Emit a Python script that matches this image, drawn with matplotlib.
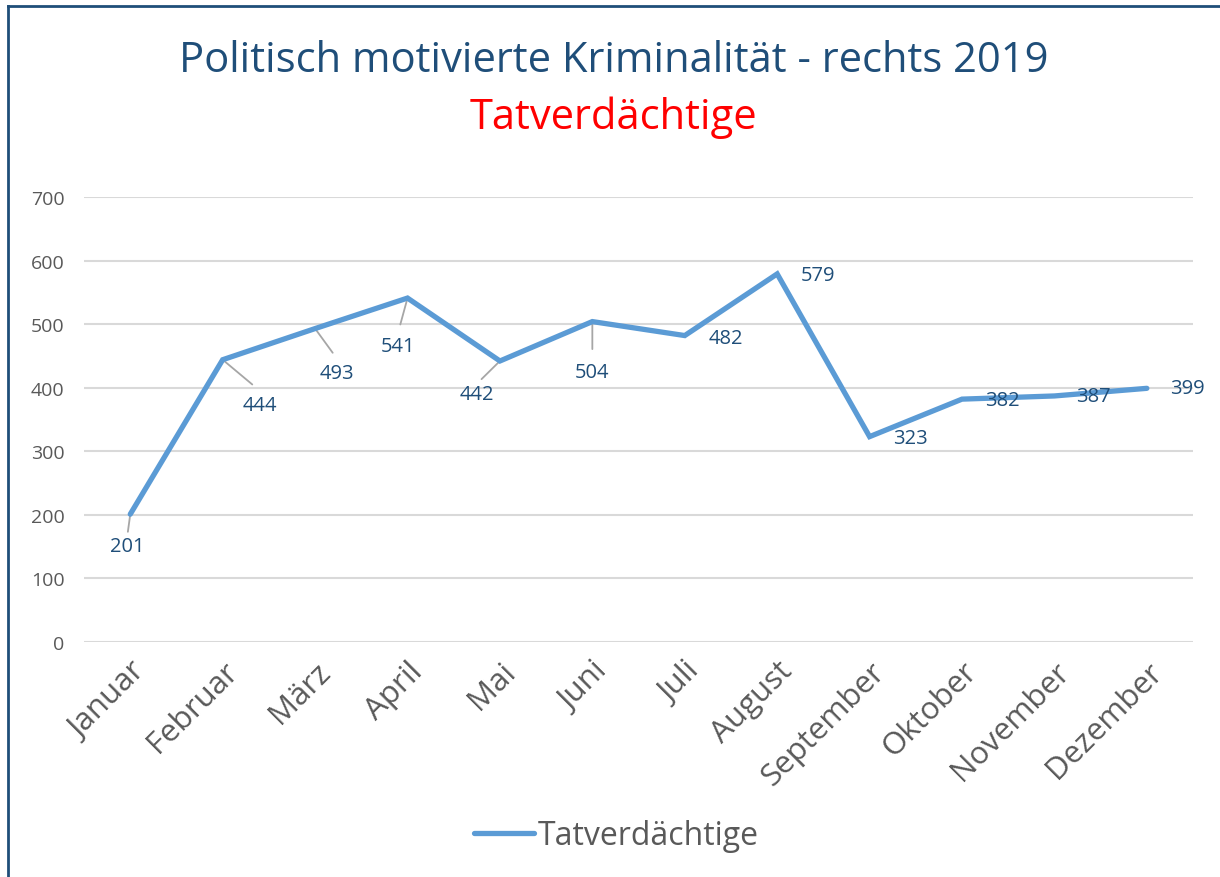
import matplotlib.pyplot as plt
from matplotlib.lines import Line2D

plt.rcParams['font.family'] = ['Open Sans', 'DejaVu Sans']

# Daten
monate = ['Januar', 'Februar', 'März', 'April', 'Mai', 'Juni', 'Juli',
          'August', 'September', 'Oktober', 'November', 'Dezember']
tatverdaechtige = [201, 444, 493, 541, 442, 504, 482, 579, 323, 382, 387, 399]
y_ticks = [0, 100, 200, 300, 400, 500, 600, 700]

# Label-Versatz in Pixeln (dx, dy) und ob eine Führungslinie gezeichnet wird
label_offsets = [(-3, -32), (37, -45), (22, -44), (-9, -48), (-23, -33), (0, -50),
                 (41, -2), (41, -1), (41, -1), (40, -1), (39, 0), (41, 0)]
leader = [True, True, True, True, True, True,
          False, False, False, False, False, False]

blau = '#5B9BD5'
dunkelblau = '#1F4E79'
grau = '#595959'

fig = plt.figure(figsize=(12.2, 8.78), dpi=100)
ax = fig.add_axes([0.0689, 0.2677, 0.909, 0.5068])

x = list(range(len(monate)))
ax.plot(x, tatverdaechtige, color=blau, linewidth=3.8,
        solid_joinstyle='miter', solid_capstyle='round', zorder=3)

for i, v in enumerate(tatverdaechtige):
    dx, dy = label_offsets[i]
    ax.annotate(str(v), (i, v), xytext=(dx, dy), textcoords='offset pixels',
                ha='center', va='center', fontsize=14.5, color=dunkelblau,
                zorder=4)
    if leader[i]:
        # kurze Führungslinie vom Punkt Richtung Label
        ax.annotate('', (i, v), xytext=(dx * 0.8, dy * 0.55),
                    textcoords='offset pixels',
                    arrowprops=dict(arrowstyle='-', color='#A6A6A6', lw=1.3,
                                    shrinkA=0, shrinkB=0), zorder=2)

ax.set_xlim(-0.5, 11.5)
ax.set_ylim(0, 700)
ax.set_yticks(y_ticks)
ax.set_xticks(x)
ax.set_xticklabels(monate, rotation=45, ha='right', rotation_mode='anchor',
                   fontsize=22.5, color=grau)
ax.tick_params(axis='y', labelsize=14, labelcolor=grau, length=0, pad=14)
ax.tick_params(axis='x', length=0, pad=10)
ax.grid(True, axis='y', color='#D9D9D9', linewidth=1.5)
ax.set_axisbelow(True)
for s in ax.spines.values():
    s.set_visible(False)

# Titel
fig.text(0.503, 0.931, 'Politisch motivierte Kriminalität - rechts 2019',
         ha='center', va='center', fontsize=30, color=dunkelblau)
fig.text(0.503, 0.866, 'Tatverdächtige', ha='center', va='center',
         fontsize=30, color='red')

# Legende
handle = Line2D([], [], color=blau, linewidth=3.8, solid_capstyle='round')
fig.legend([handle], ['Tatverdächtige'], loc='center',
           bbox_to_anchor=(0.505, 0.047), frameon=False, fontsize=23,
           labelcolor=grau, handlelength=1.9, handletextpad=0.1)

# Rahmen (nur links und oben sichtbar)
fig.add_artist(Line2D([0.0066, 0.0066], [0, 0.992], transform=fig.transFigure,
                      color=dunkelblau, linewidth=2))
fig.add_artist(Line2D([0.0066, 1], [0.992, 0.992], transform=fig.transFigure,
                      color=dunkelblau, linewidth=2))

fig.savefig('out.png', dpi=100)
